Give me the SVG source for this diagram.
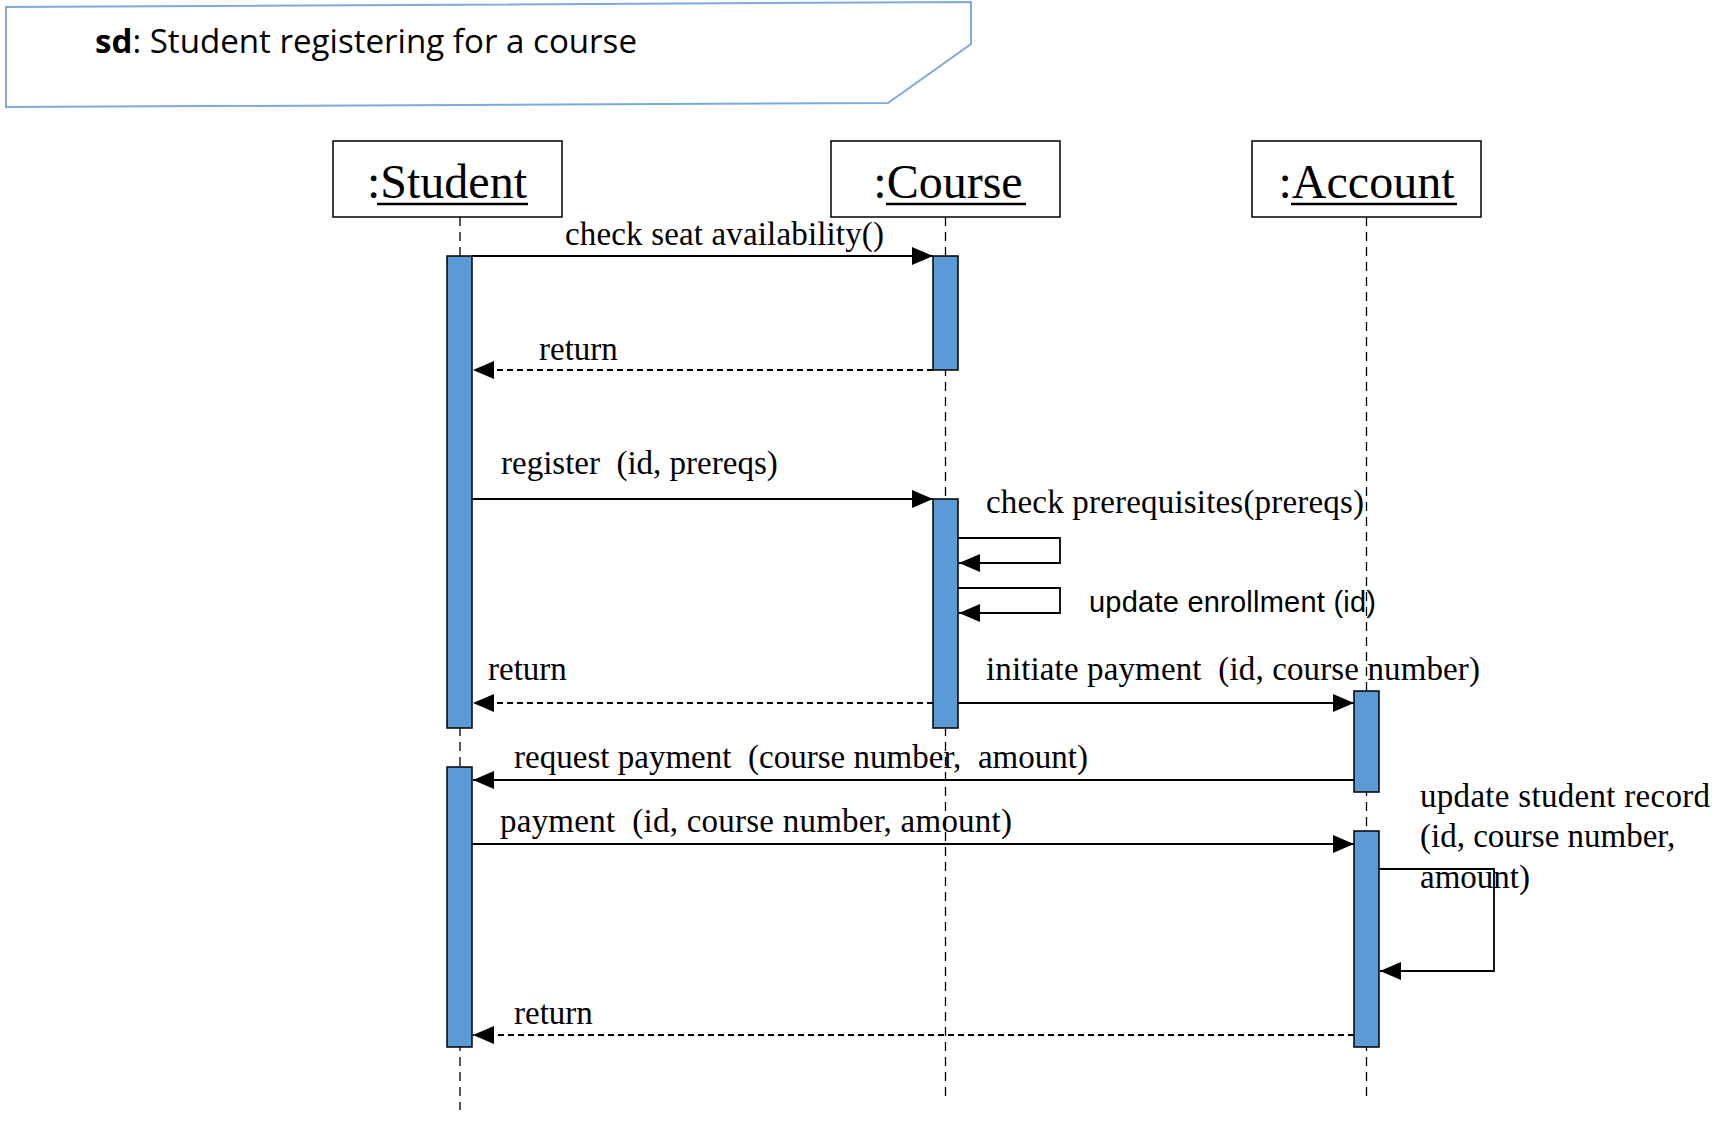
<svg xmlns="http://www.w3.org/2000/svg" width="1728" height="1121" viewBox="0 0 1728 1121">
<style>
.frame{fill:none;stroke:#7eaadb;stroke-width:2}
.box{fill:#fff;stroke:#000;stroke-width:1.5}
.hdr{font-family:"Liberation Serif","Times New Roman",serif;font-size:48px;fill:#000}
.uline{stroke:#000;stroke-width:2.5}
.life{stroke:#000;stroke-width:1.3;stroke-dasharray:9 6;fill:none}
.act{fill:#5b9bd5;stroke:#000;stroke-width:1.5}
.msg{stroke:#000;stroke-width:1.8;fill:none}
.ret{stroke:#000;stroke-width:1.8;fill:none;stroke-dasharray:6 4}
.lbl{font-family:"Liberation Serif","Times New Roman",serif;font-size:33px;fill:#000}
.sans{font-family:"Liberation Sans",Arial,sans-serif;font-size:29px;fill:#000}
.title{font-family:"Open Sans","Liberation Sans",sans-serif;font-size:32px;fill:#000}
</style>
<defs>
<marker id="ah" markerWidth="21" markerHeight="18" refX="21" refY="9" orient="auto" markerUnits="userSpaceOnUse">
<path d="M0,0 L21,9 L0,18 Z" fill="#000"/>
</marker>
</defs>
<rect width="1728" height="1121" fill="#fff"/>
<g id="frame">
<path class="frame" d="M6,7 L971,2 L971,44 L888,103 L6,107 Z"/>
<text class="title" x="95" y="53" textLength="542" lengthAdjust="spacingAndGlyphs"><tspan font-weight="bold">sd</tspan>: Student registering for a course</text>
</g>
<g id="connectors">
<line class="life" x1="460" y1="217" x2="460" y2="1110"/>
<line class="life" x1="945.5" y1="217" x2="945.5" y2="1099"/>
<line class="life" x1="1366.5" y1="217" x2="1366.5" y2="1099"/>
</g>
<g id="student">
<rect class="box" x="333" y="141" width="229" height="76"/>
<text class="hdr" x="447" y="198" text-anchor="middle">:Student</text>
<line class="uline" x1="377" y1="204" x2="528" y2="204"/>
</g>
<g id="course">
<rect class="box" x="831" y="141" width="229" height="76"/>
<text class="hdr" x="948" y="198" text-anchor="middle">:Course</text>
<line class="uline" x1="886" y1="204" x2="1026" y2="204"/>
</g>
<g id="account">
<rect class="box" x="1252" y="141" width="229" height="76"/>
<text class="hdr" x="1366.5" y="198" text-anchor="middle">:Account</text>
<line class="uline" x1="1291" y1="204" x2="1457" y2="204"/>
</g>
<g id="activations">
<rect class="act" x="447" y="256" width="25" height="472"/>
<rect class="act" x="447" y="767" width="25" height="280"/>
<rect class="act" x="933" y="256" width="25" height="114"/>
<rect class="act" x="933" y="499" width="25" height="229"/>
<rect class="act" x="1354" y="691" width="25" height="101"/>
<rect class="act" x="1354" y="831" width="25" height="216"/>
</g>
<g id="messages">
<line class="msg" x1="472" y1="256" x2="933" y2="256" marker-end="url(#ah)"/>
<text class="lbl" x="565" y="245" textLength="319">check seat availability()</text>
<line class="ret" x1="933" y1="370" x2="473" y2="370" marker-end="url(#ah)"/>
<text class="lbl" x="539" y="360">return</text>
<line class="msg" x1="472" y1="499" x2="933" y2="499" marker-end="url(#ah)"/>
<text class="lbl" x="501" y="474" xml:space="preserve">register  (id, prereqs)</text>
<polyline class="msg" points="958,538 1060,538 1060,563 959,563" marker-end="url(#ah)"/>
<text class="lbl" x="986" y="513" textLength="378">check prerequisites(prereqs)</text>
<polyline class="msg" points="958,588 1060,588 1060,613 959,613" marker-end="url(#ah)"/>
<text class="sans" x="1089" y="612" textLength="287">update enrollment (id)</text>
<line class="ret" x1="933" y1="703" x2="473" y2="703" marker-end="url(#ah)"/>
<text class="lbl" x="488" y="680">return</text>
<line class="msg" x1="958" y1="703" x2="1354" y2="703" marker-end="url(#ah)"/>
<text class="lbl" x="986" y="680" xml:space="preserve" textLength="494">initiate payment  (id, course number)</text>
<line class="msg" x1="1354" y1="780" x2="473" y2="780" marker-end="url(#ah)"/>
<text class="lbl" x="514" y="768" xml:space="preserve" textLength="574">request payment  (course number,  amount)</text>
<line class="msg" x1="472" y1="844" x2="1354" y2="844" marker-end="url(#ah)"/>
<text class="lbl" x="500" y="832" xml:space="preserve" textLength="512">payment  (id, course number, amount)</text>
<polyline class="msg" points="1379,869 1494,869 1494,971 1380,971" marker-end="url(#ah)"/>
<text class="lbl" x="1420" y="807" textLength="290">update student record</text>
<text class="lbl" x="1420" y="847">(id, course number,</text>
<text class="lbl" x="1420" y="888">amount)</text>
<line class="ret" x1="1354" y1="1035" x2="473" y2="1035" marker-end="url(#ah)"/>
<text class="lbl" x="514" y="1024">return</text>
</g>
</svg>
